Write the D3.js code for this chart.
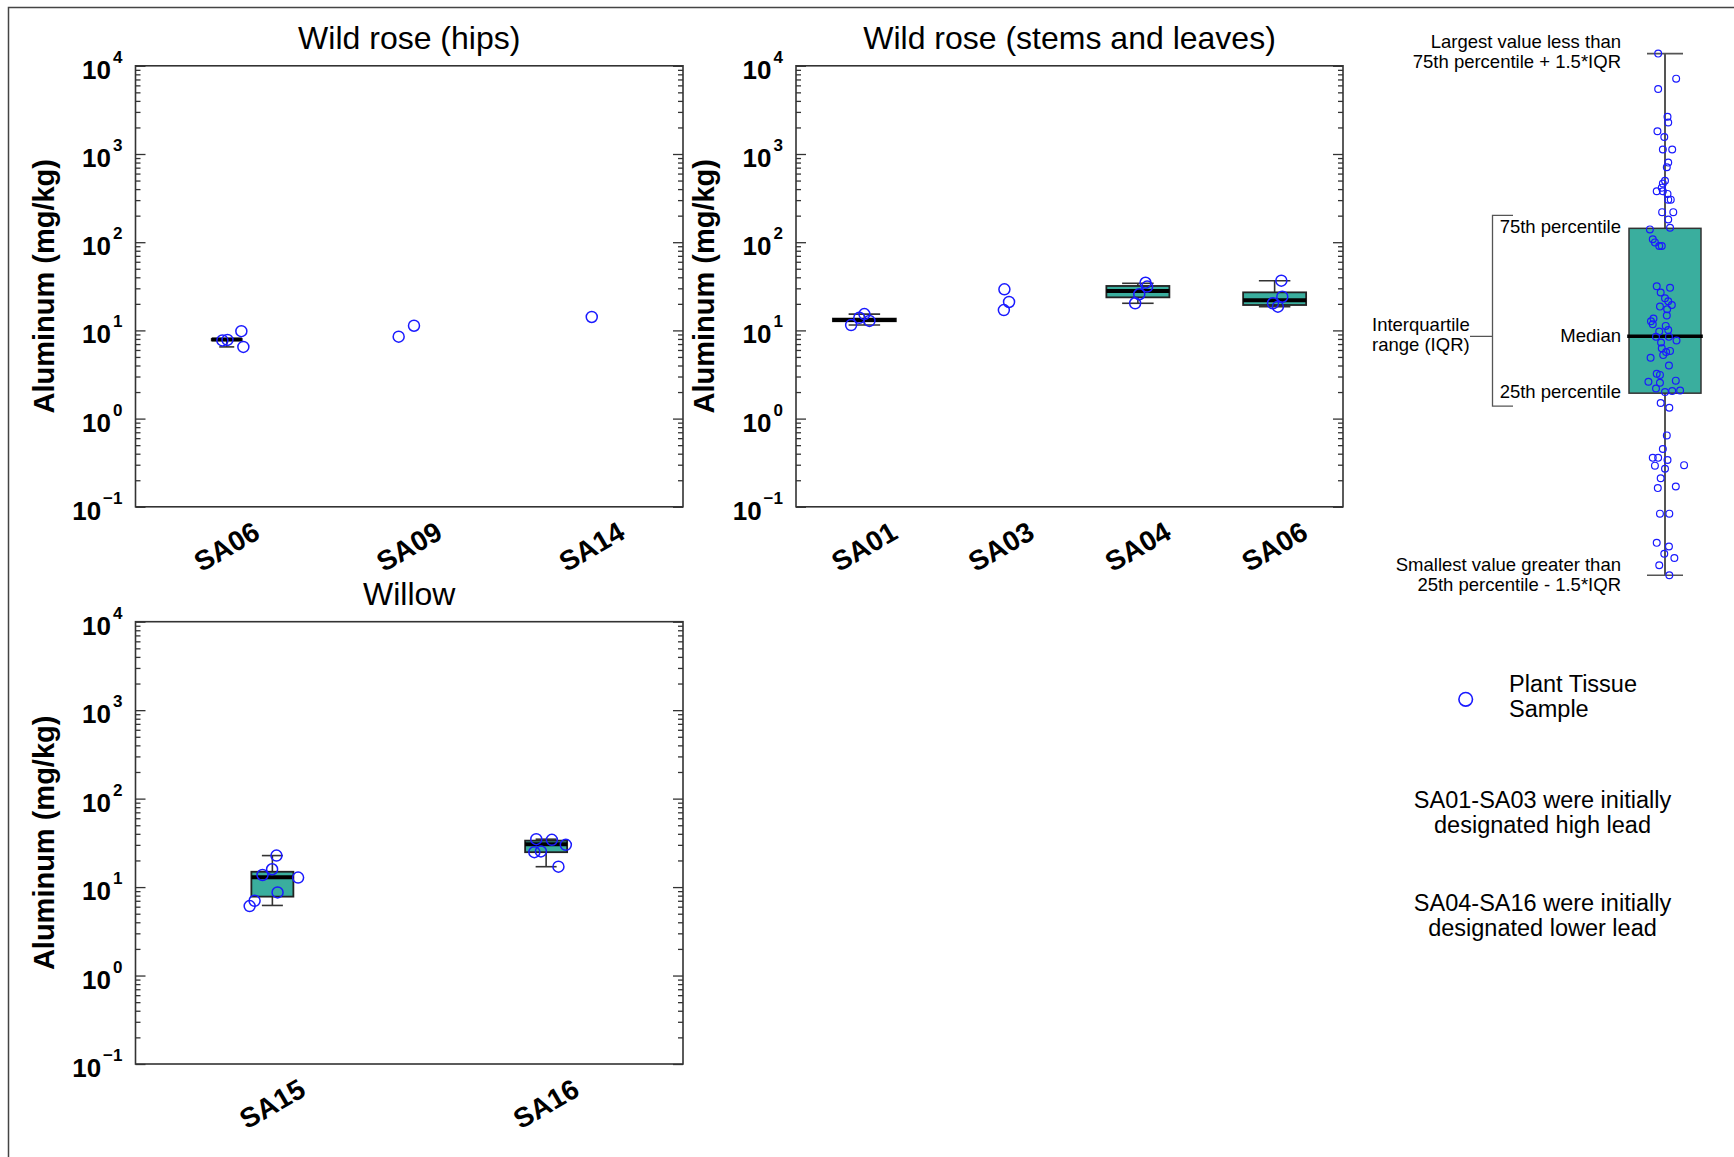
<!DOCTYPE html>
<html>
<head>
  <title>Aluminum in plant tissue</title>
  <script src="https://d3js.org/d3.v7.min.js"></script>
  <style>
    body { margin: 0; background: #fff; }
    svg { display: block; font-family: 'Liberation Sans', Arial, sans-serif; }
  </style>
</head>
<body>
  <svg id="chart" width="1734" height="1157"></svg>

  <script>
    // Wild rose (hips)  -- box = [low whisker, q1, median, q3, high whisker]
    const hipsCats = ['SA06', 'SA09', 'SA14'];
    const hipsBox = [[6.5, 7.7, 7.9, 8.0, 8.0], null, null];
    const hipsPts = [[7.7, 7.8, 9.8, 6.5], [8.5, 11.3], [14.2]];
    const hipsJit = [[-0.024, 0.004, 0.080, 0.091], [-0.058, 0.026], [0]];

    // Wild rose (stems and leaves)
    const stemCats = ['SA01', 'SA03', 'SA04', 'SA06'];
    const stemBox = [[11.5, 12.7, 13.1, 13.6, 15.3], null, [20.3, 23.7, 28.0, 31.9, 34.2], [18.6, 19.4, 21.9, 27.0, 36.6]];
    const stemPts = [[11.5, 13.9, 15.3, 12.8], [29.2, 21.0, 17.0], [20.3, 25.7, 31.4, 34.7], [36.6, 24.1, 20.3, 18.6]];
    const stemJit = [[-0.097, -0.037, 0, 0.037], [0.024, 0.058, 0.020], [-0.02, 0.01, 0.068, 0.056], [0.049, 0.056, -0.012, 0.024]];

    // Willow
    const willowCats = ['SA15', 'SA16'];
    const willowBox = [[6.2, 7.8, 12.9, 14.9, 22.7], [17.0, 24.8, 30.5, 33.5, 34.8]];
    const willowPts = [[22.7, 15.9, 13.7, 12.8, 8.7, 7.0, 6.1], [34.8, 34.2, 30.0, 24.8, 25.3, 17.0]];
    const willowJit = [[0.015, -0.001, -0.036, 0.094, 0.019, -0.065, -0.083], [-0.036, 0.021, 0.072, -0.043, -0.019, 0.045]];

    const yTicks = [0.1, 1, 10, 100, 1000, 10000];
    const yExp = ['\u22121', '0', '1', '2', '3', '4'];

    // explanatory box plot (arbitrary units, 0 = low whisker, 100 = high whisker)
    const keyBox = [0, 34.9, 45.8, 66.5, 100];
    const keyPts = [100.0, 95.2, 93.2, 87.9, 86.8, 85.1, 84.0, 81.6, 81.6, 79.1, 78.2, 75.6, 75.1, 74.3, 73.6,
      73.6, 73.1, 72.0, 72.0, 69.6, 69.6, 68.2, 66.6, 66.3, 64.4, 63.8, 63.1, 63.1, 55.4, 55.1, 54.2, 53.1,
      52.5, 51.8, 51.5, 51.0, 49.8, 49.2, 48.7, 48.1, 47.8, 46.7, 47.0, 45.7, 45.7, 45.0, 44.6, 43.5, 43.0,
      42.8, 42.2, 41.7, 40.2, 38.6, 38.4, 37.1, 36.9, 37.3, 35.8, 35.1, 35.3, 35.4, 33.0, 32.1, 26.8, 24.2,
      22.5, 22.5, 22.1, 21.0, 20.4, 21.1, 18.6, 16.7, 17.0, 11.8, 11.8, 6.2, 5.5, 4.1, 3.3, 1.9, 0.0];
    const keyJit = [-0.19, 0.31, -0.19, 0.07, 0.09, -0.21, -0.02, -0.06, 0.20, 0.09, 0.05, 0, -0.06, -0.09, -0.23,
      -0.06, 0.07, 0.09, 0.16, -0.08, 0.23, 0.09, 0.14, -0.42, -0.34, -0.28, -0.16, -0.09, -0.23, 0.14, -0.12, 0,
      0.09, 0.19, -0.14, 0.06, 0.05, -0.32, -0.39, -0.34, 0.02, -0.16, 0.09, -0.25, 0.11, 0.32, -0.11, -0.09,
      0.14, 0.03, -0.05, -0.40, 0.11, -0.23, -0.14, -0.46, -0.14, 0.30, -0.25, 0, 0.20, 0.42, -0.12, 0.12,
      0.05, -0.06, -0.34, -0.19, 0.07, -0.28, 0, 0.53, -0.12, -0.20, 0.30, -0.14, 0.12, -0.23, 0.11, -0.02,
      0.26, -0.16, 0.12];

    const blue = '#1a1aff';
    const teal = '#3aae9e';
    const ink = '#333';

    const panels = [
      { title: 'Wild rose (hips)', cats: hipsCats, box: hipsBox, pts: hipsPts, jit: hipsJit,
        left: 135.5, right: 683, top: 65.8, bottom: 506.8, bw: 30 },
      { title: 'Wild rose (stems and leaves)', cats: stemCats, box: stemBox, pts: stemPts, jit: stemJit,
        left: 796, right: 1343, top: 65.8, bottom: 506.8, bw: 63 },
      { title: 'Willow', cats: willowCats, box: willowBox, pts: willowPts, jit: willowJit,
        left: 135.5, right: 683, top: 621.7, bottom: 1064, bw: 42 }
    ];

    const svg = d3.select('#chart');

    // outer frame, only the top and left edges show
    svg.append('path')
      .attr('d', 'M8.5,1157V7.5H1734')
      .attr('fill', 'none')
      .attr('stroke', '#444')
      .attr('stroke-width', 1.5);

    const minorTicks = d3.range(-1, 4).flatMap(k => d3.range(2, 10).map(m => m * Math.pow(10, k)));

    panels.forEach(p => {
      const g = svg.append('g');
      const x = d3.scaleBand().domain(p.cats).range([p.left, p.right]);
      const y = d3.scaleLog().domain([0.1, 1e4]).range([p.bottom, p.top]);
      const cx = c => x(c) + x.bandwidth() / 2;

      // ticks point inward on both sides
      const tickAxis = (axis, at) => g.append('g')
        .attr('transform', `translate(${at},0)`)
        .attr('color', ink)
        .call(axis)
        .call(s => s.select('.domain').remove())
        .call(s => s.selectAll('line').attr('stroke-width', 1.3));
      tickAxis(d3.axisLeft(y).tickValues(yTicks).tickSize(-10).tickFormat(''), p.left);
      tickAxis(d3.axisLeft(y).tickValues(minorTicks).tickSize(-5).tickFormat(''), p.left);
      tickAxis(d3.axisRight(y).tickValues(yTicks).tickSize(-10).tickFormat(''), p.right);
      tickAxis(d3.axisRight(y).tickValues(minorTicks).tickSize(-5).tickFormat(''), p.right);

      g.append('rect')
        .attr('x', p.left).attr('y', p.top)
        .attr('width', p.right - p.left).attr('height', p.bottom - p.top)
        .attr('fill', 'none').attr('stroke', ink).attr('stroke-width', 1.6);

      // y tick labels 10^n
      g.selectAll('text.ylab')
        .data(yTicks)
        .join('text')
        .attr('class', 'ylab')
        .attr('x', p.left - 13)
        .attr('y', d => y(d) + 13)
        .attr('text-anchor', 'end')
        .attr('font-weight', 'bold')
        .attr('font-size', 26)
        .each(function (d, i) {
          const t = d3.select(this);
          t.append('tspan').text('10');
          t.append('tspan').attr('dx', 2).attr('dy', -16).attr('font-size', 17).text(yExp[i]);
        });

      // y axis title
      g.append('text')
        .attr('transform', `translate(${p.left - 82},${(p.top + p.bottom) / 2}) rotate(-90)`)
        .attr('text-anchor', 'middle')
        .attr('font-weight', 'bold')
        .attr('font-size', 29)
        .text('Aluminum (mg/kg)');

      // panel title
      g.append('text')
        .attr('x', (p.left + p.right) / 2)
        .attr('y', p.top - 17)
        .attr('text-anchor', 'middle')
        .attr('font-size', 32)
        .text(p.title);

      // category labels
      g.selectAll('text.xlab')
        .data(p.cats)
        .join('text')
        .attr('class', 'xlab')
        .attr('transform', d => `translate(${cx(d)},${p.bottom + 40}) rotate(-30)`)
        .attr('text-anchor', 'middle')
        .attr('dominant-baseline', 'central')
        .attr('font-weight', 'bold')
        .attr('font-size', 28)
        .text(d => d);

      // boxes
      p.box.forEach((b, i) => {
        if (!b) return;
        const [lo, q1, med, q3, hi] = b;
        const c = cx(p.cats[i]);
        const bg = g.append('g');
        bg.append('line').attr('x1', c).attr('x2', c).attr('y1', y(lo)).attr('y2', y(hi))
          .attr('stroke', ink).attr('stroke-width', 1.6);
        [lo, hi].forEach(v => bg.append('line')
          .attr('x1', c - p.bw / 4).attr('x2', c + p.bw / 4).attr('y1', y(v)).attr('y2', y(v))
          .attr('stroke', ink).attr('stroke-width', 1.6));
        bg.append('rect')
          .attr('x', c - p.bw / 2).attr('y', y(q3))
          .attr('width', p.bw).attr('height', y(q1) - y(q3))
          .attr('fill', teal).attr('stroke', '#222').attr('stroke-width', 1.8);
        bg.append('line').attr('x1', c - p.bw / 2).attr('x2', c + p.bw / 2).attr('y1', y(med)).attr('y2', y(med))
          .attr('stroke', '#000').attr('stroke-width', 4);
      });

      // sample points
      const pts = p.pts.flatMap((vals, i) => vals.map((v, j) => ({ cat: p.cats[i], v, j: p.jit[i][j] })));
      g.selectAll('circle')
        .data(pts)
        .join('circle')
        .attr('cx', d => cx(d.cat) + d.j * x.bandwidth())
        .attr('cy', d => y(d.v))
        .attr('r', 5.5)
        .attr('fill', 'none')
        .attr('stroke', blue)
        .attr('stroke-width', 1.5);
    });

    // explanation of the box plot
    const key = svg.append('g');
    const ky = d3.scaleLinear().domain([0, 100]).range([575.2, 53.6]);
    const kx = d3.scaleLinear().domain([-1, 1]).range([1629, 1701]);
    const kc = kx(0);

    key.append('line').attr('x1', kc).attr('x2', kc).attr('y1', ky(keyBox[0])).attr('y2', ky(keyBox[4]))
      .attr('stroke', '#555').attr('stroke-width', 2);
    [keyBox[0], keyBox[4]].forEach(v => key.append('line')
      .attr('x1', kx(-0.5)).attr('x2', kx(0.5)).attr('y1', ky(v)).attr('y2', ky(v))
      .attr('stroke', '#555').attr('stroke-width', 1.6));
    key.append('rect')
      .attr('x', kx(-1)).attr('y', ky(keyBox[3]))
      .attr('width', kx(1) - kx(-1)).attr('height', ky(keyBox[1]) - ky(keyBox[3]))
      .attr('fill', teal).attr('stroke', '#333').attr('stroke-width', 1.5);
    key.append('line').attr('x1', kx(-1.05)).attr('x2', kx(1.05)).attr('y1', ky(keyBox[2])).attr('y2', ky(keyBox[2]))
      .attr('stroke', '#000').attr('stroke-width', 3.5);

    key.selectAll('circle')
      .data(keyPts)
      .join('circle')
      .attr('cx', (d, i) => kx(keyJit[i]))
      .attr('cy', d => ky(d))
      .attr('r', 3.4)
      .attr('fill', 'none')
      .attr('stroke', blue)
      .attr('stroke-width', 1.2);

    // bracket for the IQR
    const bx = 1492.5;
    key.append('path')
      .attr('d', `M1513,${ky(keyBox[3]) - 13}H${bx}V${ky(keyBox[1]) + 13}H1513M${bx},${ky(keyBox[2])}H1470`)
      .attr('fill', 'none').attr('stroke', '#555').attr('stroke-width', 1.3);

    const keyText = [
      { x: 1621, y: 47.8, a: 'end', t: 'Largest value less than' },
      { x: 1621, y: 68, a: 'end', t: '75th percentile + 1.5*IQR' },
      { x: 1621, y: 233, a: 'end', t: '75th percentile' },
      { x: 1621, y: 342, a: 'end', t: 'Median' },
      { x: 1621, y: 398, a: 'end', t: '25th percentile' },
      { x: 1621, y: 571, a: 'end', t: 'Smallest value greater than' },
      { x: 1621, y: 590.5, a: 'end', t: '25th percentile - 1.5*IQR' },
      { x: 1372, y: 331, a: 'start', t: 'Interquartile' },
      { x: 1372, y: 351, a: 'start', t: 'range (IQR)' }
    ];
    key.selectAll('text')
      .data(keyText)
      .join('text')
      .attr('x', d => d.x)
      .attr('y', d => d.y)
      .attr('text-anchor', d => d.a)
      .attr('font-size', 18.5)
      .text(d => d.t);

    // legend and notes
    svg.append('circle')
      .attr('cx', 1465.7).attr('cy', 699.3).attr('r', 6.8)
      .attr('fill', 'none').attr('stroke', blue).attr('stroke-width', 1.6);

    const notes = [
      { x: 1509, y: 691.7, a: 'start', t: 'Plant Tissue' },
      { x: 1509, y: 717.3, a: 'start', t: 'Sample' },
      { x: 1542.5, y: 808.3, a: 'middle', t: 'SA01-SA03 were initially' },
      { x: 1542.5, y: 833.3, a: 'middle', t: 'designated high lead' },
      { x: 1542.5, y: 910.7, a: 'middle', t: 'SA04-SA16 were initially' },
      { x: 1542.5, y: 936, a: 'middle', t: 'designated lower lead' }
    ];
    svg.append('g').selectAll('text')
      .data(notes)
      .join('text')
      .attr('x', d => d.x)
      .attr('y', d => d.y)
      .attr('text-anchor', d => d.a)
      .attr('font-size', 23.5)
      .text(d => d.t);
  </script>
</body>
</html>
